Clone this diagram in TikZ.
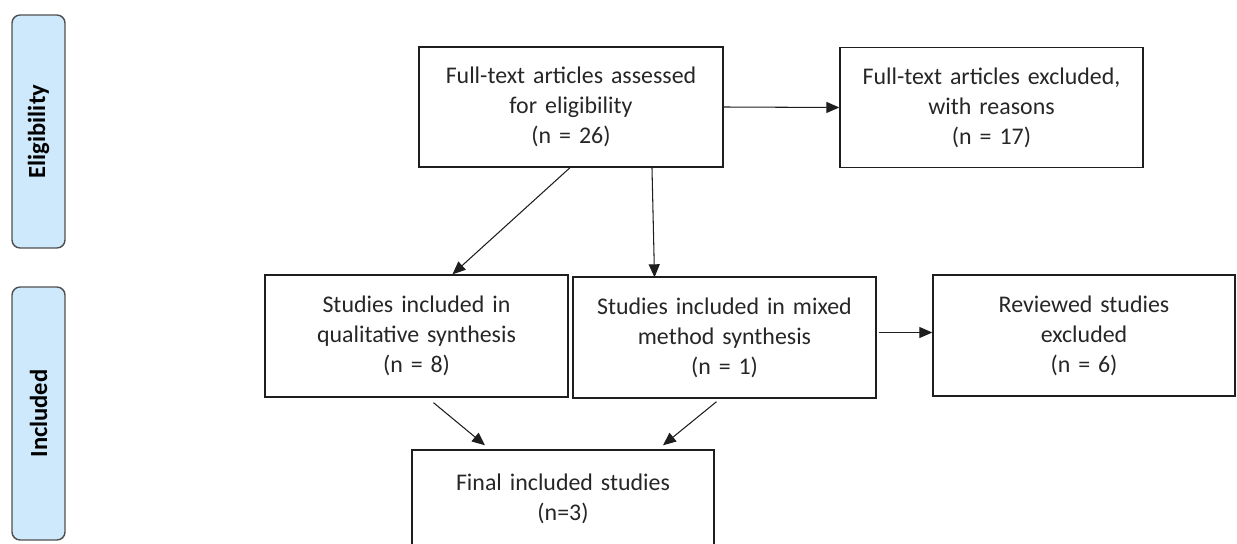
\documentclass[tikz,border=0pt]{standalone}
\usepackage{fontspec}
\setmainfont{Carlito}
\usepackage{tikz}
\usetikzlibrary{arrows.meta}

\definecolor{sidefill}{RGB}{205,233,251}
\definecolor{sideline}{RGB}{80,80,80}
\definecolor{boxline}{RGB}{30,30,30}

\begin{document}
\begin{tikzpicture}[x=0.02cm,y=-0.02cm,
		stage/.style={draw=boxline,line width=0.8pt,align=center,inner sep=2pt,
			text=black!85,font=\fontsize{13.6}{17}\selectfont,
			minimum width=6.06cm,minimum height=2.4cm,text width=5.9cm},
		side/.style={draw=sideline,fill=sidefill,line width=0.8pt,rounded corners=0.16cm,
			rotate=90,minimum height=1.06cm,font=\bfseries\fontsize{14}{16}\selectfont},
		arr/.style={draw=boxline,line width=0.6pt,-{Triangle[length=0.26cm,width=0.22cm]}}]
		\useasboundingbox (0,0) rectangle (1237,544);
		\node[side,minimum width=4.66cm] (elig) at (38.5,131.5) {Eligibility};
		\node[side,minimum width=5.06cm] (incl) at (38.5,413.5) {Included};
		\node[stage,minimum width=6.08cm] (assess) at (571,107) {Full-text articles assessed\\for eligibility\\(n = 26)};
		\node[stage] (excl) at (991.5,107.5) {Full-text articles excluded,\\with reasons\\(n = 17)};
		\node[stage,minimum height=2.44cm] (qual) at (416.5,336) {Studies included in\\qualitative synthesis\\(n = 8)};
		\node[stage,minimum height=2.42cm] (mixed) at (724.5,337.5) {Studies included in mixed\\method synthesis\\(n = 1)};
		\node[stage,minimum width=5.96cm,minimum height=2.42cm] (rev) at (1084,335.5) {Reviewed studies\\excluded\\(n = 6)};
		\node[stage,minimum width=6.04cm,minimum height=1.96cm] (final) at (563,499) {Final included studies\\(n=3)};
		\draw[arr] (assess.east) -- (excl.west);
		\draw[arr] ([xshift=-0.02cm]assess.south) -- ([xshift=0.72cm]qual.north);
		\draw[arr] ([xshift=1.62cm]assess.south) -- ([xshift=-1.4cm,yshift=-0.02cm]mixed.north);
		\draw[arr] ([xshift=0.34cm,yshift=-0.1cm]qual.south) -- ([xshift=-1.56cm,yshift=0.08cm]final.north);
		\draw[arr] ([xshift=-0.16cm,yshift=-0.06cm]mixed.south) -- ([xshift=2cm,yshift=0.08cm]final.north);
		\draw[arr] ([xshift=0.04cm,yshift=0.1cm]mixed.east) -- ([yshift=0.1cm]mixed.east -| rev.west);
	\end{tikzpicture}
\end{document}
